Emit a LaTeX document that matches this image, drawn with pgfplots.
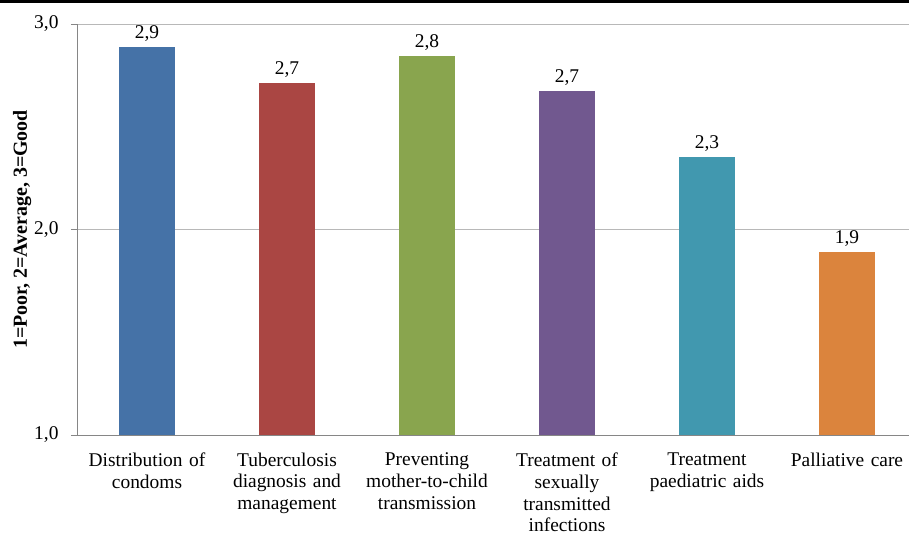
\documentclass[border=0pt]{standalone}
\usepackage{pgfplots}
\pgfplotsset{compat=1.18}
\usepackage{fontspec}
\setmainfont{Liberation Serif}

\definecolor{cBlue}{HTML}{4572A7}
\definecolor{cRed}{HTML}{AA4643}
\definecolor{cGreen}{HTML}{89A54E}
\definecolor{cPurple}{HTML}{71588F}
\definecolor{cTeal}{HTML}{4198AF}
\definecolor{cOrange}{HTML}{DB843D}
\definecolor{gridgray}{HTML}{B8B8B8}
\definecolor{axisgray}{HTML}{868686}

\begin{document}
\begin{tikzpicture}
\fill[black] (0,532bp) rectangle (909bp,535bp);
\begin{axis}[
    at={(77bp,100bp)}, anchor=south west,
    scale only axis,
    width=832bp, height=411bp,
    xmin=-0.5, xmax=5.443,
    ymin=1, ymax=3,
    ytick={1,2,3},
    xtick={0,1,2,3,4,5},
    xticklabels={
        Distribution of\\condoms,
        Tuberculosis\\diagnosis and\\management,
        Preventing\\mother-to-child\\transmission,
        Treatment of\\sexually\\transmitted\\infections,
        Treatment\\paediatric aids,
        Palliative care},
    extra x ticks={-0.5,0.5,1.5,2.5,3.5,4.5},
    extra x tick labels={},
    extra x tick style={major tick length=6bp, tick style={axisgray, line width=0.8bp}},
    axis x line*=bottom, axis y line*=left,
    axis line style={axisgray, line width=0.8bp},
    x axis line style={-}, y axis line style={-},
    tick align=outside,
    major tick length=6bp,
    xtick style={draw=none},
    ytick style={axisgray, line width=0.8bp},
    ymajorgrids,
    grid style={gridgray, line width=0.9bp},
    /pgf/number format/fixed,
    /pgf/number format/fixed zerofill,
    /pgf/number format/precision=1,
    /pgf/number format/use comma,
    /pgf/number format/assume math mode=true,
    ticklabel style={font=\fontsize{19.5}{22}\selectfont},
    xticklabel style={align=center, text width=150bp, yshift=-8bp},
    yticklabel style={xshift=-9bp},
    ylabel={\textbf{1=Poor, 2=Average, 3=Good}},
    every axis y label/.style={at={(axis description cs:-0.066,0.5)}, rotate=90, anchor=center, font=\fontsize{20}{23}\selectfont},
    nodes near coords,
    point meta=explicit symbolic,
    every node near coord/.append style={font=\fontsize{19.5}{23}\selectfont, black, anchor=south, yshift=2bp},
    clip=false,
]
\addplot[ybar, bar width=56bp, bar shift=0pt, fill=cBlue, draw=none] coordinates {(0,2.888) [2,9]};
\addplot[ybar, bar width=56bp, bar shift=0pt, fill=cRed, draw=none] coordinates {(1,2.713) [2,7]};
\addplot[ybar, bar width=56bp, bar shift=0pt, fill=cGreen, draw=none] coordinates {(2,2.844) [2,8]};
\addplot[ybar, bar width=56bp, bar shift=0pt, fill=cPurple, draw=none] coordinates {(3,2.674) [2,7]};
\addplot[ybar, bar width=56bp, bar shift=0pt, fill=cTeal, draw=none] coordinates {(4,2.353) [2,3]};
\addplot[ybar, bar width=56bp, bar shift=0pt, fill=cOrange, draw=none] coordinates {(5,1.890) [1,9]};
\end{axis}
\pgfresetboundingbox
\useasboundingbox (0,0) rectangle (909bp,535bp);
\end{tikzpicture}
\end{document}
